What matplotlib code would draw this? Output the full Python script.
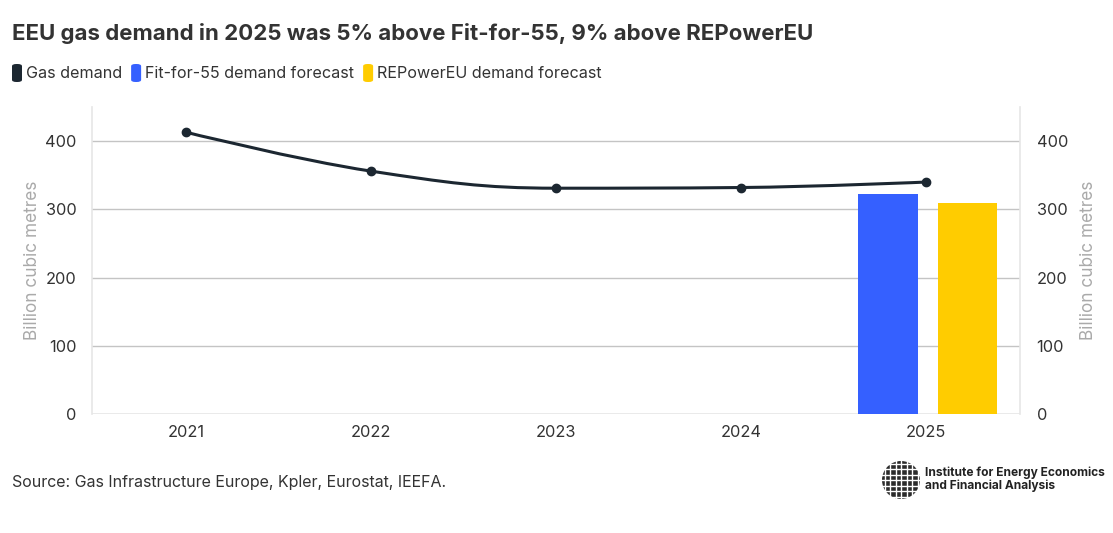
import numpy as np
import matplotlib
matplotlib.use("Agg")
import matplotlib.pyplot as plt
from matplotlib.path import Path
from matplotlib.patches import PathPatch, FancyBboxPatch, Circle

plt.rcParams['font.family'] = ['Inter', 'DejaVu Sans']

years = ['2021', '2022', '2023', '2024', '2025']
gas_demand = [413, 356, 331, 332, 340]
fit_for_55 = [323]
repowereu = [310]

title = "EEU gas demand in 2025 was 5% above Fit-for-55, 9% above REPowerEU"
source = "Source: Gas Infrastructure Europe, Kpler, Eurostat, IEEFA."

c_line = '#1c2731'
c_blue = '#3560ff'
c_yellow = '#ffcc00'


def spline_path(xs, ys, smoothing=1.5):
    # highcharts-like spline, drawn as cubic bezier segments
    n = len(xs)
    verts = [(xs[0], ys[0])]
    codes = [Path.MOVETO]
    ctrl = []
    for i in range(n):
        if i == 0 or i == n - 1:
            ctrl.append(((xs[i], ys[i]), (xs[i], ys[i])))
            continue
        d = smoothing + 1
        lx = (smoothing * xs[i] + xs[i - 1]) / d
        ly = (smoothing * ys[i] + ys[i - 1]) / d
        rx = (smoothing * xs[i] + xs[i + 1]) / d
        ry = (smoothing * ys[i] + ys[i + 1]) / d
        if rx != lx:
            corr = (ry - ly) * (rx - xs[i]) / (rx - lx) + ys[i] - ry
            ly += corr
            ry += corr
        if ly > ys[i - 1] and ly > ys[i]:
            ly = max(ys[i - 1], ys[i]); ry = 2 * ys[i] - ly
        elif ly < ys[i - 1] and ly < ys[i]:
            ly = min(ys[i - 1], ys[i]); ry = 2 * ys[i] - ly
        if ry > ys[i + 1] and ry > ys[i]:
            ry = max(ys[i + 1], ys[i]); ly = 2 * ys[i] - ry
        elif ry < ys[i + 1] and ry < ys[i]:
            ry = min(ys[i + 1], ys[i]); ly = 2 * ys[i] - ry
        ctrl.append(((lx, ly), (rx, ry)))
    for i in range(1, n):
        verts += [ctrl[i - 1][1], ctrl[i][0], (xs[i], ys[i])]
        codes += [Path.CURVE4] * 3
    return Path(verts, codes)


fig = plt.figure(figsize=(11.13, 5.33), dpi=100)
ax = fig.add_axes([0.0827, 0.2233, 0.8337, 0.5759])

x = np.arange(len(years))
ax.set_xlim(-0.51, 4.51)
ax.set_ylim(0, 450)

bar_w = 0.324
ax.bar(x[-1] - 0.205, fit_for_55, width=bar_w, color=c_blue, zorder=3)
ax.bar(x[-1] + 0.226, repowereu, width=bar_w, color=c_yellow, zorder=3)

ax.add_patch(PathPatch(spline_path(list(x), gas_demand), fill=False,
                       edgecolor=c_line, lw=2.2, zorder=4))
ax.plot(x, gas_demand, 'o', color=c_line, ms=6, zorder=5)

for v in [100, 200, 300, 400]:
    ax.axhline(v, color='#c4c4c4', lw=1, zorder=1)
ax.axhline(0, color='#e6e6e6', lw=1.2, zorder=2)

for s in ['top', 'bottom']:
    ax.spines[s].set_visible(False)
for s in ['left', 'right']:
    ax.spines[s].set_color('#e6e6e6')
    ax.spines[s].set_linewidth(1.2)

ax.set_xticks(x)
ax.set_xticklabels(years)
ax.set_yticks([0, 100, 200, 300, 400])
ax.tick_params(axis='both', length=0, labelsize=11.8, colors='#333333')
ax.tick_params(axis='x', pad=8)
ax.tick_params(axis='y', pad=11)
ax.set_ylabel('Billion cubic metres', color='#aaaaaa', fontsize=12.4, labelpad=3)

ax2 = ax.twinx()
ax2.set_ylim(ax.get_ylim())
ax2.set_yticks([0, 100, 200, 300, 400])
ax2.tick_params(axis='y', length=0, labelsize=11.8, colors='#333333', pad=12)
for s in ax2.spines.values():
    s.set_visible(False)
ax2.set_ylabel('Billion cubic metres', color='#aaaaaa', fontsize=12.4, labelpad=9)

fig.text(0.011, 0.938, title, fontsize=16, fontweight='bold', color='#333333', va='center')

# legend row
legend_items = [('Gas demand', c_line), ('Fit-for-55 demand forecast', c_blue),
                ('REPowerEU demand forecast', c_yellow)]
lx = 12
for label, col in legend_items:
    fig.patches.append(FancyBboxPatch((lx / 1113, (533 - 82) / 533), 10 / 1113, 18 / 533,
                                      boxstyle='round,pad=0,rounding_size=0.004',
                                      transform=fig.transFigure, facecolor=col,
                                      edgecolor='none'))
    t = fig.text((lx + 14) / 1113, 1 - 73 / 533, label, fontsize=11.6, color='#333333',
                 va='center')
    fig.canvas.draw()
    bb = t.get_window_extent()
    lx = bb.x1 + 9

fig.text(0.011, 1 - 482 / 533, source, fontsize=11.5, color='#333333', va='center')

# IEEFA logo
fig.patches.append(Circle((901, 533 - 480), 19, transform=None, facecolor='#2b2b2b',
                          edgecolor='none'))
for k in range(-3, 4):
    fig.lines.append(plt.Line2D([901 - 19, 901 + 19], [533 - 480 + k * 5.5] * 2,
                                transform=None, color='white', lw=1))
    fig.lines.append(plt.Line2D([901 + k * 5.5] * 2, [533 - 480 - 19, 533 - 480 + 19],
                                transform=None, color='white', lw=1))
fig.text(925 / 1113, 1 - 479 / 533, 'Institute for Energy Economics\nand Financial Analysis',
         fontsize=8.6, fontweight='bold', color='#222222', va='center', linespacing=1.05)

fig.savefig('out.png', dpi=100, facecolor='white')
